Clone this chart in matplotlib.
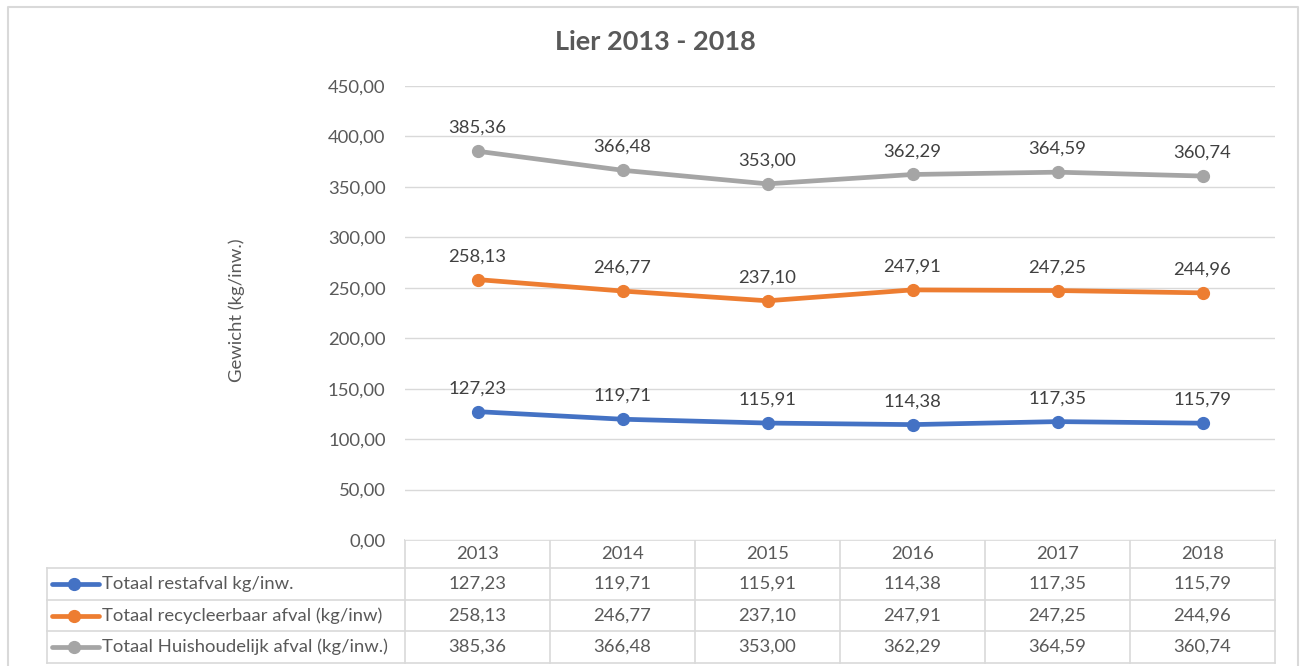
import matplotlib.pyplot as plt
from matplotlib.lines import Line2D

# Data
jaren = ["2013", "2014", "2015", "2016", "2017", "2018"]
restafval = [127.23, 119.71, 115.91, 114.38, 117.35, 115.79]
recycleerbaar = [258.13, 246.77, 237.10, 247.91, 247.25, 244.96]
huishoudelijk = [385.36, 366.48, 353.00, 362.29, 364.59, 360.74]
reeks_namen = ["Totaal restafval kg/inw.",
               "Totaal recycleerbaar afval (kg/inw)",
               "Totaal Huishoudelijk afval (kg/inw.)"]
kleuren = ["#4472C4", "#ED7D31", "#A5A5A5"]
y_ticks = [0, 50, 100, 150, 200, 250, 300, 350, 400, 450]

plt.rcParams['font.family'] = ['Lato', 'DejaVu Sans']

W, H = 1303, 666
fig = plt.figure(figsize=(W / 100, H / 100), dpi=100)

def nl(v):
    return f"{v:.2f}".replace(".", ",")

fs = 13.3
grijs = "#595959"

# plotgebied in pixels van de afbeelding
px_l, px_t, px_r, px_b = 405, 86, 1275, 540
ax = fig.add_axes([px_l / W, 1 - px_b / H, (px_r - px_l) / W, (px_b - px_t) / H])

series = [restafval, recycleerbaar, huishoudelijk]
x = list(range(len(jaren)))
for vals, kleur in zip(series, kleuren):
    ax.plot(x, vals, color=kleur, lw=3.4, marker="o", ms=8.5, solid_capstyle="round", zorder=3)
    for xi, v in zip(x, vals):
        ax.annotate(nl(v), (xi, v), xytext=(0, 11), textcoords="offset points",
                    ha="center", va="bottom", fontsize=fs, color="#404040")

ax.set_xlim(-0.5, len(jaren) - 0.5)
ax.set_ylim(0, 450)
ax.set_yticks(y_ticks)
ax.set_yticklabels([nl(t) for t in y_ticks], fontsize=fs, color=grijs)
ax.set_xticks([])
ax.tick_params(axis="y", length=0, pad=14)
ax.grid(axis="y", color="#D9D9D9", lw=1)
for s in ax.spines.values():
    s.set_visible(False)
ax.set_axisbelow(True)

# overlay in pixels voor rand, titel en tabel
ov = fig.add_axes([0, 0, 1, 1], zorder=-1)
ov.set_xlim(0, W)
ov.set_ylim(H, 0)
ov.axis("off")

lc = "#D9D9D9"
ov.add_line(Line2D([8, 8, 1298, 1298], [672, 7, 7, 672], color=lc, lw=1.5))

ov.text(655, 42, "Lier 2013 - 2018", ha="center", va="center",
        fontsize=19.5, fontweight="bold", color=grijs)
ov.text(237, 310, "Gewicht (kg/inw.)", ha="center", va="center", rotation=90,
        fontsize=fs, color=grijs)

# datatabel
col_w = (px_r - px_l) / len(jaren)
rij_y = [540, 568, 600, 631, 663]
lab_l = 47
for i in range(len(jaren) + 1):
    xl = px_l + i * col_w
    ov.add_line(Line2D([xl, xl], [rij_y[0], rij_y[-1]], color=lc, lw=1.2))
ov.add_line(Line2D([lab_l, lab_l], [rij_y[1], rij_y[-1]], color=lc, lw=1.2))
ov.add_line(Line2D([px_l, px_r], [rij_y[0], rij_y[0]], color=lc, lw=1.2))
for yy in rij_y[1:]:
    ov.add_line(Line2D([lab_l, px_r], [yy, yy], color=lc, lw=1.2))

for i, j in enumerate(jaren):
    ov.text(px_l + (i + 0.5) * col_w, (rij_y[0] + rij_y[1]) / 2, j,
            ha="center", va="center", fontsize=fs, color=grijs)

for r, (naam, vals, kleur) in enumerate(zip(reeks_namen, series, kleuren)):
    yc = (rij_y[r + 1] + rij_y[r + 2]) / 2
    ov.add_line(Line2D([52, 99], [yc, yc], color=kleur, lw=3.4, solid_capstyle="round"))
    ov.plot([74], [yc], "o", color=kleur, ms=8.5)
    ov.text(102, yc, naam, ha="left", va="center", fontsize=fs, color=grijs)
    for i, v in enumerate(vals):
        ov.text(px_l + (i + 0.5) * col_w, yc, nl(v), ha="center", va="center",
                fontsize=fs, color=grijs)

fig.savefig("out.png", dpi=100)
